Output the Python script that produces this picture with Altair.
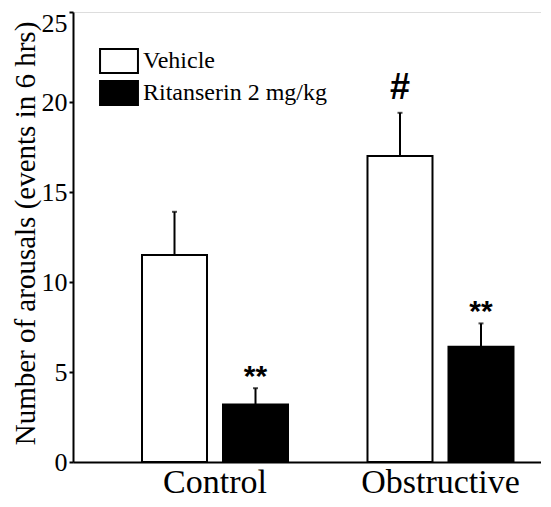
import altair as alt
import pandas as pd

groups = ["Control", "Control", "Obstructive", "Obstructive"]
treatments = ["Vehicle", "Ritanserin 2 mg/kg", "Vehicle", "Ritanserin 2 mg/kg"]
means = [11.5, 3.2, 17.0, 6.4]
errors = [2.4, 0.9, 2.4, 1.3]
marks = ["", "**", "#", "**"]
y_ticks = [0, 5, 10, 15, 20, 25]

treat_order = ["Vehicle", "Ritanserin 2 mg/kg"]
df = pd.DataFrame({
    "group": groups,
    "treatment": treatments,
    "mean": means,
    "upper": [m + e for m, e in zip(means, errors)],
    "mark": marks,
})

SERIF = "Times New Roman, Liberation Serif, serif"
SANS = "Arial, Liberation Sans, sans-serif"

x = alt.X("group:N", title=None,
          scale=alt.Scale(paddingInner=0.3525, paddingOuter=0.214, align=0.715),
          axis=alt.Axis(labelAngle=0, ticks=False, labelFont=SERIF, labelFontSize=34,
                        labelColor="black", labelPadding=3, domainColor="black",
                        domainWidth=2))
xoff = alt.XOffset("treatment:N", sort=treat_order,
                   scale=alt.Scale(paddingInner=0.1975, paddingOuter=0))
yscale = alt.Scale(domain=[0, 25], nice=False)

bars = alt.Chart(df).mark_bar(stroke="black", strokeWidth=2).encode(
    x=x,
    xOffset=xoff,
    y=alt.Y("mean:Q", scale=yscale, title="Number of arousals  (events in 6 hrs)",
            axis=alt.Axis(values=y_ticks, grid=False, tickSize=4,
                          tickWidth=2, tickColor="black", domainColor="black",
                          domainWidth=2, labelFont=SERIF, labelFontSize=26,
                          labelColor="black", labelPadding=2,
                          labelOffset={"condition": {"test": "datum.value == 25", "value": 11},
                                       "value": 0},
                          titleFont=SERIF, titleFontSize=29, titleFontWeight="normal",
                          titleColor="black", titleAngle=-90, titleX=-39, titleY=221,
                          titleAlign="center", titleBaseline="alphabetic")),
    fill=alt.Fill("treatment:N", sort=treat_order,
                  scale=alt.Scale(domain=treat_order, range=["white", "black"]),
                  legend=alt.Legend(title=None, orient="none", legendX=33, legendY=36,
                                    symbolType="M-1.58,-1H1.58V1H-1.58Z",
                                    symbolSize=576, symbolStrokeColor="black",
                                    symbolStrokeWidth=2, symbolOpacity=1,
                                    labelFont=SERIF, labelFontSize=24,
                                    labelColor="black", labelOffset=11, labelLimit=400,
                                    rowPadding=0, padding=0)),
)

err = alt.Chart(df).mark_rule(color="black", strokeWidth=2).encode(
    x=x, xOffset=xoff, y=alt.Y("mean:Q", scale=yscale), y2="upper:Q")

caps = alt.Chart(df).mark_tick(color="black", thickness=2, size=5).encode(
    x=x, xOffset=xoff, y=alt.Y("upper:Q", scale=yscale))

stars = alt.Chart(df).transform_filter("datum.mark == '**'").mark_text(
    font=SANS, fontSize=30, fontWeight="bold", color="black", dy=-2, baseline="alphabetic"
).encode(x=x, xOffset=xoff, y=alt.Y("upper:Q", scale=yscale), text="mark:N")

hashes = alt.Chart(df).transform_filter("datum.mark == '#'").mark_text(
    font=SANS, fontSize=36, fontWeight="bold", color="black", dy=-14, baseline="alphabetic"
).encode(x=x, xOffset=xoff, y=alt.Y("upper:Q", scale=yscale), text="mark:N")

chart = alt.layer(bars, err, caps, stars, hashes).properties(
    width=468, height=450,
    autosize=alt.AutoSizeParams(type="none"),
    padding={"left": 65, "top": 4, "right": 0, "bottom": 38},
).configure_view(stroke=None).configure(background="white")

chart.save("out.html", embed_options={"renderer": "svg", "actions": False})
